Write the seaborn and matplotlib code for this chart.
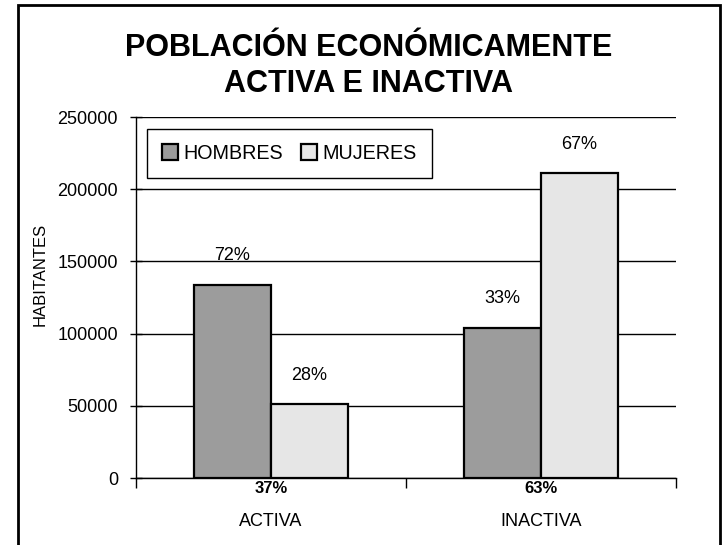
import matplotlib
matplotlib.use("Agg")
import matplotlib.pyplot as plt
import matplotlib.transforms as mtransforms
from matplotlib.patches import Rectangle
import pandas as pd
import seaborn as sns

# datos
categorias = ["ACTIVA", "INACTIVA"]
sexos = ["HOMBRES", "MUJERES"]
hombres = [134000, 104000]
mujeres = [51000, 211000]
pct_hombres = ["72%", "33%"]
pct_mujeres = ["28%", "67%"]
pct_categoria = ["37%", "63%"]
yticks = [0, 50000, 100000, 150000, 200000, 250000]

df = pd.DataFrame({
    "Condicion": categorias * 2,
    "Sexo": [sexos[0]] * 2 + [sexos[1]] * 2,
    "Habitantes": hombres + mujeres,
})

sns.set_style("white")
plt.rcParams["font.family"] = ["Liberation Sans", "DejaVu Sans"]
plt.rcParams.update({"text.color": "black", "axes.labelcolor": "black",
                     "xtick.color": "black", "ytick.color": "black"})

fig = plt.figure(figsize=(7.25, 5.45), dpi=100)
ax = fig.add_axes([0.1876, 0.1229, 0.7448, 0.6624])

paleta = {"HOMBRES": "#9c9c9c", "MUJERES": "#e6e6e6"}
sns.barplot(data=df, x="Condicion", y="Habitantes", hue="Sexo", order=categorias,
            hue_order=sexos, palette=paleta, width=0.57, saturation=1,
            edgecolor="black", linewidth=1.6, ax=ax, zorder=3)

ax.set_ylim(0, 250000)
ax.set_xlim(-0.5, 1.5)
ax.set_yticks(yticks)
ax.set_yticklabels([str(v) for v in yticks], fontsize=13)
ax.yaxis.grid(True, color="black", linewidth=1, zorder=0)
ax.set_axisbelow(True)
for s in ["top", "right"]:
    ax.spines[s].set_visible(False)
for s in ["left", "bottom"]:
    ax.spines[s].set_color("black")
    ax.spines[s].set_linewidth(1)
ax.tick_params(axis="y", which="major", direction="inout", length=8, width=1,
               left=True, pad=9)
ax.set_xticks([-0.5, 0.5, 1.5], minor=True)
ax.tick_params(axis="x", which="minor", length=7, width=1, bottom=True)
ax.tick_params(axis="x", which="major", length=0, pad=25, labelsize=13)
ax.set_xlabel("")
ax.set_ylabel("HABITANTES", fontsize=12)
ax.yaxis.set_label_coords(-0.163, 0.565)

# porcentajes sobre las barras
for barras, etiquetas in [(ax.containers[0], pct_hombres), (ax.containers[1], pct_mujeres)]:
    for b, t in zip(barras, etiquetas):
        ax.annotate(t, (b.get_x() + b.get_width() / 2, b.get_height()),
                    xytext=(0, 21), textcoords="offset points",
                    ha="center", va="center", fontsize=13)

trans = mtransforms.blended_transform_factory(ax.transData, ax.transAxes)
for i, t in enumerate(pct_categoria):
    ax.text(i, -0.029, t, transform=trans, ha="center", va="center",
            fontsize=12, fontweight="bold")

leg = ax.legend(loc="upper left", bbox_to_anchor=(0.02, 0.967), ncol=2,
                fontsize=14.2, frameon=True, fancybox=False, framealpha=1,
                handlelength=0.82, handleheight=0.82, handletextpad=0.26,
                columnspacing=0.95, borderpad=0.75, borderaxespad=0)
leg.get_frame().set_edgecolor("black")
leg.get_frame().set_linewidth(1)

fig.text(0.508, 0.879, "POBLACIÓN ECONÓMICAMENTE\nACTIVA E INACTIVA",
         ha="center", va="center", fontsize=22, fontweight="bold", linespacing=1.25)

fig.patches.append(Rectangle((0.025, -0.05), 0.968, 1.04, transform=fig.transFigure,
                             fill=False, edgecolor="black", linewidth=2))

fig.savefig("out.png", dpi=100)
